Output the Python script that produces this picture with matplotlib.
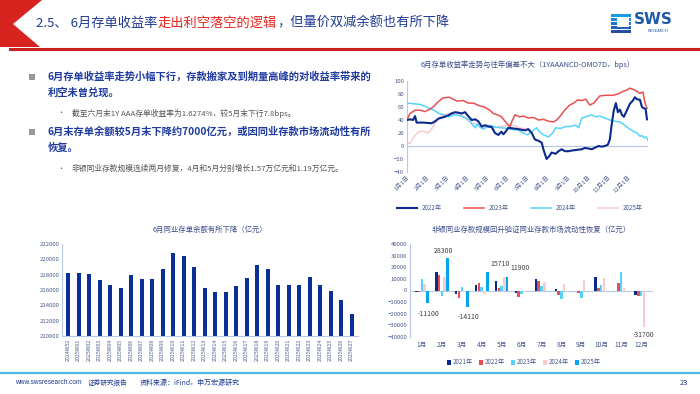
import matplotlib
matplotlib.use("Agg")
import matplotlib.pyplot as plt
from matplotlib.patches import Polygon, Rectangle
from matplotlib.lines import Line2D

plt.rcParams['font.family'] = ['Noto Sans CJK SC', 'DejaVu Sans']

W, H = 700, 394

# ── data: CD yield spread (1YAAANCD-OMO7D, bps), x = month fraction ──────────
x22 = [0, 0.15, 0.3, 0.4, 0.48, 0.8, 1.23, 1.4, 1.56, 1.89, 2.05, 2.22, 2.4, 2.6, 2.72,
       2.89, 3.05, 3.22, 3.4, 3.55, 3.72, 3.9, 4.05, 4.22, 4.38, 4.55, 4.7, 4.8, 4.88,
       5.05, 5.3, 5.54, 5.7, 5.88, 6.04, 6.21, 6.37, 6.55, 6.71, 6.79, 6.95, 7.1, 7.2,
       7.4, 7.54, 7.7, 7.87, 8.05, 8.2, 8.45, 8.7, 8.86, 9.05, 9.2, 9.4, 9.53, 9.7, 9.86,
       10.0, 10.1, 10.2, 10.3, 10.4, 10.5, 10.6, 10.7, 10.8, 10.95, 11.1, 11.25, 11.35,
       11.45, 11.6, 11.7, 11.8, 11.88, 11.95]
y22 = [40, 41, 40, 46, 36, 36, 35, 38, 42, 45, 47, 50, 52, 51, 50,
       52, 46, 40, 41, 38, 30, 32, 30, 29, 20, 17, 22, 18, 21,
       28, 27, 26, 25, 24, 26, 20, 10, 8, 5, -5, -20, -15, -10,
       -12, -8, -5, -8, -8, -7, -6, -5, -3, -4, -5, -2, 0, -1, 0,
       2, 10, 35, 55, 66, 52, 56, 48, 45, 55, 65, 70, 75,
       72, 71, 60, 58, 57, 41]

x23 = [0, 0.15, 0.4, 0.65, 0.9, 1.1, 1.3, 1.55, 1.8, 2.1, 2.5, 2.8, 3.05, 3.3, 3.6, 3.85,
       4.13, 4.3, 4.5, 4.7, 4.96, 5.13, 5.25, 5.38, 5.6, 5.8, 6.05, 6.3, 6.55, 6.8, 7.05,
       7.3, 7.45, 7.6, 7.85, 8.1, 8.3, 8.5, 8.7, 8.9, 9.1, 9.3, 9.6, 9.9, 10.26, 10.5,
       10.76, 10.95, 11.1, 11.35, 11.6, 11.75, 11.85, 11.95]
y23 = [40, 50, 55, 55, 53, 56, 60, 68, 74, 75, 69, 70, 66, 66, 62, 60,
       55, 50, 48, 45, 35, 30, 40, 48, 45, 46, 43, 44, 40, 41, 38,
       37, 40, 45, 55, 63, 66, 71, 70, 72, 63, 66, 77, 78, 78, 80,
       84, 86, 89, 86, 81, 83, 66, 58]

x24 = [0, 0.3, 0.65, 0.9, 1.1, 1.35, 1.6, 1.85, 2.1, 2.35, 2.6, 2.85, 3.1, 3.25, 3.4, 3.5,
       3.6, 3.8, 4.13, 4.4, 4.7, 5.0, 5.3, 5.5, 5.8, 6.0, 6.2, 6.45, 6.6, 6.8, 7.05, 7.25,
       7.4, 7.65, 7.9, 8.15, 8.4, 8.55, 8.7, 8.9, 9.2, 9.4, 9.6, 9.85, 10.1, 10.35, 10.6,
       10.8, 11.0, 11.15, 11.3, 11.45, 11.6, 11.7, 11.8, 11.9, 12.0]
y24 = [66, 65, 64, 61, 58, 55, 50, 48, 45, 48, 47, 44, 40, 33, 28, 34,
       30, 26, 32, 29, 28, 27, 25, 25, 20, 17, 22, 28, 22, 17, 14, 20,
       28, 27, 30, 30, 32, 28, 43, 45, 48, 45, 46, 43, 40, 38, 37,
       33, 28, 25, 22, 20, 15, 16, 13, 14, 9]

x25 = [0, 0.15, 0.3, 0.5, 0.7, 0.9, 1.05, 1.2, 1.4, 1.64, 1.9, 2.1, 2.3, 2.6, 2.85, 3.05,
       3.25, 3.5, 3.7, 4.05, 4.3, 4.6, 4.9, 5.2, 5.4, 5.6, 5.8, 5.95]
y25 = [5, 4, 12, 20, 23, 22, 20, 25, 35, 45, 48, 50, 52, 50, 45, 38,
       36, 32, 28, 30, 28, 30, 31, 32, 31, 28, 27, 26]

month_ticks = [f"{m}月1日" for m in range(1, 13)]

# ── data: CD balance (亿元) ──────────────────────────────────────────────────
bal_labels = ["2024W52"] + [f"2025W{i:02d}" for i in range(1, 28)]
bal_values = [218200, 218200, 218100, 217300, 216700, 216300, 218000, 217400, 217400,
              218700, 220800, 220400, 219000, 216300, 215800, 215800, 216500, 217600,
              219300, 218800, 216700, 216600, 216600, 217700, 216700, 215900, 214700,
              212900]

# ── data: non-bank interbank deposit change (亿元) ───────────────────────────
months = [f"{m}月" for m in range(1, 13)]
dep_2021 = [-1000, 16000, -3000, 5000, 8000, -2500, 9500, 1000, -500, 12000, 0, -4000]
dep_2022 = [-1500, 13500, -6500, 6500, 2000, -5500, 8000, -4000, -2500, 2000, 6500, -5000]
dep_2023 = [10000, -5000, 3000, 3000, 3500, -3000, 4000, -7500, -6500, 5000, 15500, -5000]
dep_2024 = [5500, 11500, -1000, -3000, 11500, -1500, 7000, 6000, 9000, 10500, 2000, -31700]
dep_2025 = [-11100, 28300, -14110, 15710, 11900]

NAVY = "#0b2a8c"
RED = "#e8504f"
CYAN = "#55d4fb"
PINK = "#f8cccc"
BLUE = "#05a6ee"
TICK = "#4a5a8a"
SPINE = "#b8c8e8"

fig = plt.figure(figsize=(7, 3.94), dpi=100)


def fx(px):
    return px / W


def fy(py):
    return 1 - py / H


# ── header ───────────────────────────────────────────────────────────────────
fig.patches.append(Polygon([(fx(0), fy(0)), (fx(42), fy(0)), (fx(13), fy(24)),
                            (fx(40), fy(47)), (fx(0), fy(47))],
                           closed=True, transform=fig.transFigure,
                           facecolor="#d7231e", edgecolor="none"))
fig.add_artist(Line2D([fx(10), fx(700)], [fy(48.5), fy(48.5)], color="#c8201c",
                      lw=2.2, transform=fig.transFigure))

renderer = fig.canvas.get_renderer()
parts = [("2.5、 6月存单收益率", "#1f3a93"), ("走出利空落空的逻辑", "#e8231c"),
         ("，但量价双减余额也有所下降", "#1f3a93")]
xpos = fx(36)
for s, c in parts:
    t = fig.text(xpos, fy(23), s, fontsize=9.5, color=c, va="center", ha="left")
    bb = t.get_window_extent(renderer=renderer)
    xpos += bb.width / fig.bbox.width

# logo
for i, c in enumerate(["#1a9be0", "#1a8ad6", "#1a77c8", "#1e63b8", "#2350a6"]):
    fig.patches.append(Rectangle((fx(611), fy(14 + i * 4 + 3.2)), fx(20), 3.2 / H,
                                 transform=fig.transFigure, facecolor=c, edgecolor="none"))
fig.patches.append(Rectangle((fx(617), fy(27)), fx(12), 10 / H, transform=fig.transFigure,
                             facecolor="white", edgecolor="none"))
fig.text(fx(634), fy(20), "SWS", fontsize=11, fontweight="bold", color="#1f5aa6",
         va="center", family="DejaVu Sans")
fig.text(fx(648), fy(31), "RESEARCH", fontsize=2.8, color="#1f5aa6", va="center",
         family="DejaVu Sans")

# ── left text block ─────────────────────────────────────────────────────────
BOLD = "#1f3a9e"
GRAY = "#555555"
for yy in (77, 132):
    fig.patches.append(Rectangle((fx(29), fy(yy + 3)), fx(6), 6 / H,
                                 transform=fig.transFigure, facecolor="#999999",
                                 edgecolor="none"))
fig.text(fx(48), fy(77), "6月存单收益率走势小幅下行，存款搬家及到期量高峰的对收益率带来的",
         fontsize=7.4, fontweight="bold", color=BOLD, va="center")
fig.text(fx(48), fy(93), "利空未曾兑现。", fontsize=7.4, fontweight="bold", color=BOLD,
         va="center")
fig.text(fx(57), fy(113), "•", fontsize=5, color=GRAY, va="center")
fig.text(fx(72), fy(113), "截至六月末1Y AAA存单收益率为1.6274%，较5月末下行7.8bps。",
         fontsize=5.6, color=GRAY, va="center")
fig.text(fx(48), fy(132), "6月末存单余额较5月末下降约7000亿元，或因同业存款市场流动性有所",
         fontsize=7.4, fontweight="bold", color=BOLD, va="center")
fig.text(fx(48), fy(148), "恢复。", fontsize=7.4, fontweight="bold", color=BOLD, va="center")
fig.text(fx(57), fy(169), "•", fontsize=5, color=GRAY, va="center")
fig.text(fx(72), fy(169), "非银同业存款规模连续两月修复，4月和5月分别增长1.57万亿元和1.19万亿元。",
         fontsize=5.6, color=GRAY, va="center")


def style_axes(ax):
    for s in ("top", "right"):
        ax.spines[s].set_visible(False)
    ax.spines["left"].set_color(SPINE)
    ax.spines["bottom"].set_color(SPINE)
    ax.tick_params(axis="both", colors=TICK, labelsize=4.3, length=0, pad=2)


# ── line chart ───────────────────────────────────────────────────────────────
ax1 = fig.add_axes([fx(407), fy(172), fx(241), (172 - 81) / H])
style_axes(ax1)
ax1.spines["bottom"].set_visible(False)
ax1.axhline(0, color=SPINE, lw=0.9, zorder=1)
ax1.plot(x22, y22, color=NAVY, lw=1.5, label="2022年", zorder=5)
ax1.plot(x23, y23, color=RED, lw=1.1, label="2023年", zorder=4)
ax1.plot(x24, y24, color=CYAN, lw=1.1, label="2024年", zorder=3)
ax1.plot(x25, y25, color=PINK, lw=1.1, label="2025年", zorder=2)
ax1.set_xlim(0, 12)
ax1.set_ylim(-40, 100)
ax1.set_yticks(range(-40, 101, 20))
ax1.set_xticks(range(12))
ax1.set_xticklabels(month_ticks, rotation=45, ha="right", rotation_mode="anchor")
ax1.set_title("6月存单收益率走势与往年偏差不大（1YAAANCD-OMO7D，bps）", fontsize=5.3,
              color="#3a4a8a", pad=10)
ax1.legend(loc="upper center", bbox_to_anchor=(0.47, -0.29), ncol=4, frameon=False,
           fontsize=4.5, handlelength=3.2, columnspacing=3.5, labelcolor=TICK)

# ── CD balance bar chart ─────────────────────────────────────────────────────
ax2 = fig.add_axes([fx(62), fy(336), fx(296), (336 - 244) / H])
style_axes(ax2)
ax2.bar(range(len(bal_values)), bal_values, width=0.38, color="#0a2f96")
ax2.set_ylim(210000, 222000)
ax2.set_yticks(range(210000, 222001, 2000))
ax2.set_xlim(-0.6, len(bal_values) - 0.4)
ax2.set_xticks(range(len(bal_labels)))
ax2.set_xticklabels(bal_labels, rotation=90, fontsize=3.8)
ax2.set_title("6月同业存单余额有所下降（亿元）", fontsize=5.3, color="#3a4a8a", pad=9)

# ── non-bank deposit grouped bars ────────────────────────────────────────────
ax3 = fig.add_axes([fx(410), fy(337), fx(243), (337 - 244) / H])
style_axes(ax3)
ax3.spines["bottom"].set_visible(False)
ax3.axhline(0, color=SPINE, lw=0.8, zorder=1)
bw = 0.14
series = [(dep_2021, NAVY, "2021年"), (dep_2022, RED, "2022年"), (dep_2023, CYAN, "2023年"),
          (dep_2024, PINK, "2024年"), (dep_2025, BLUE, "2025年")]
for k, (vals, col, lab) in enumerate(series):
    xs = [i + (k - 2) * bw for i in range(len(vals))]
    ax3.bar(xs, vals, width=bw * 0.92, color=col, label=lab, zorder=2)
ax3.set_ylim(-40000, 40000)
ax3.set_yticks(range(-40000, 40001, 10000))
ax3.set_xlim(-0.6, 11.6)
ax3.set_xticks(range(12))
ax3.set_xticklabels(months, fontsize=4.8)
ax3.tick_params(axis="x", pad=3)
ax3.xaxis.set_ticks_position("none")
ax3.set_title("非银同业存款规模回升验证同业存款市场流动性恢复（亿元）", fontsize=5.3,
              color="#3a4a8a", pad=9)
ann_kw = dict(fontsize=5, color="#404040", ha="center")
ax3.text(0.35, dep_2025[0] - 5500, "-11100", va="top", **ann_kw)
ax3.text(1.1, dep_2025[1] + 2500, "28300", va="bottom", **ann_kw)
ax3.text(2.35, dep_2025[2] - 5500, "-14110", va="top", **ann_kw)
ax3.text(3.9, dep_2025[3] + 4000, "15710", va="bottom", **ann_kw)
ax3.text(4.9, dep_2025[4] + 4000, "11900", va="bottom", **ann_kw)
ax3.text(11.1, dep_2024[11] - 3000, "-31700", va="top", **ann_kw)
ax3.legend(loc="upper center", bbox_to_anchor=(0.47, -0.17), ncol=5, frameon=False,
           fontsize=4.5, handlelength=0.6, handleheight=0.8, columnspacing=1.0,
           handletextpad=0.3, labelcolor=TICK)

# ── footer ───────────────────────────────────────────────────────────────────
fig.add_artist(Line2D([0, 1], [fy(373), fy(373)], color="#4cb8e8", lw=1.6,
                      transform=fig.transFigure))
fig.text(fx(15), fy(383), "www.swsresearch.com", fontsize=4.7, color="#1f3a93",
         va="center", family="Liberation Sans")
fig.text(fx(88), fy(383), "证券研究报告", fontsize=4.8, color="#1f3a93", va="center")
fig.text(fx(140), fy(383), "资料来源：iFind，申万宏源研究", fontsize=5, color="#1f3a93",
         va="center")
fig.text(fx(680), fy(383), "23", fontsize=5.5, color="#1f3a93", va="center")

fig.savefig("out.png", dpi=100)
